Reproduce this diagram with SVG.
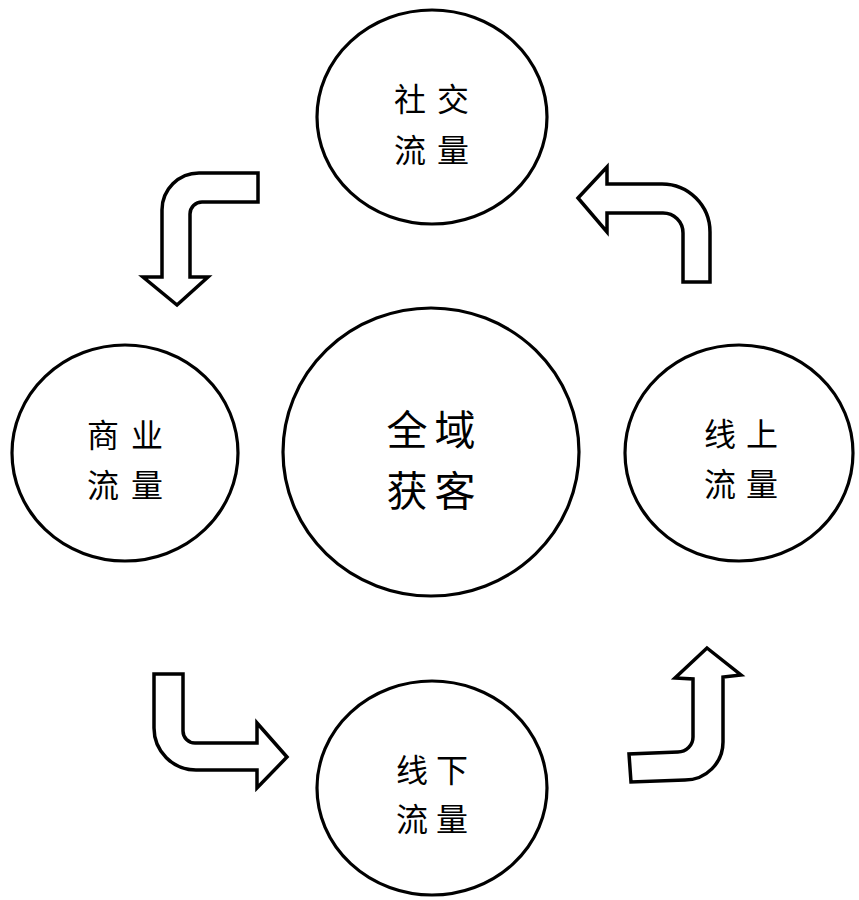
<svg xmlns="http://www.w3.org/2000/svg" width="859" height="900" viewBox="0 0 859 900">
<style>
.node ellipse{fill:#fff;stroke:#000;stroke-width:3.2}
.lbl{font-family:"Noto Sans CJK SC","Noto Sans CJK JP",sans-serif;font-size:32px;fill:#000;text-anchor:middle;dominant-baseline:central}
.big{font-size:41px}
.arrow{fill:#fff;stroke:#000;stroke-width:3.5;stroke-linejoin:miter}
</style>
<rect width="859" height="900" fill="#fff"/>
<g id="connectors">
<path class="arrow" d="M258,173 L258,202 L202,202 A12,12 0 0 0 190,214 L190,277 L208,277 L177,305 L143,277 L162,277 L162,210 A37,37 0 0 1 199,173 Z"/>
<path class="arrow" d="M578,198 L607,167 L607,184 L662,184 A48,48 0 0 1 710,232 L710,282 L683,282 L683,233 A20,20 0 0 0 663,213 L607,213 L607,232 Z"/>
<path class="arrow" d="M154,674 L183,674 L183,731 A12,12 0 0 0 195,743 L257,743 L257,723 L287,757 L257,788 L257,770 L196,770 A42,42 0 0 1 154,728 Z"/>
<path class="arrow" d="M707,648 L741,675 L723,677 L723,742 A38,38 0 0 1 685,780 L631,782 L629,754 L678,752 A15,15 0 0 0 693,737 L693,679 L675,678 Z"/>
</g>
<g id="node-social" class="node">
<ellipse cx="432" cy="117" rx="115" ry="107"/>
<text class="lbl" x="410 453" y="97">社交</text>
<text class="lbl" x="410 453" y="148">流量</text>
</g>
<g id="node-business" class="node">
<ellipse cx="125" cy="453" rx="113" ry="108"/>
<text class="lbl" x="103 147" y="433">商业</text>
<text class="lbl" x="103 147" y="483">流量</text>
</g>
<g id="node-center" class="node">
<ellipse cx="431" cy="452" rx="148" ry="144"/>
<text class="lbl big" x="407 455" y="427">全域</text>
<text class="lbl big" x="407 455" y="488">获客</text>
</g>
<g id="node-online" class="node">
<ellipse cx="739" cy="453" rx="114" ry="108"/>
<text class="lbl" x="720 762" y="432">线上</text>
<text class="lbl" x="720 762" y="482">流量</text>
</g>
<g id="node-offline" class="node">
<ellipse cx="432" cy="788" rx="115" ry="107"/>
<text class="lbl" x="412 452" y="768">线下</text>
<text class="lbl" x="412 452" y="817">流量</text>
</g>
</svg>
